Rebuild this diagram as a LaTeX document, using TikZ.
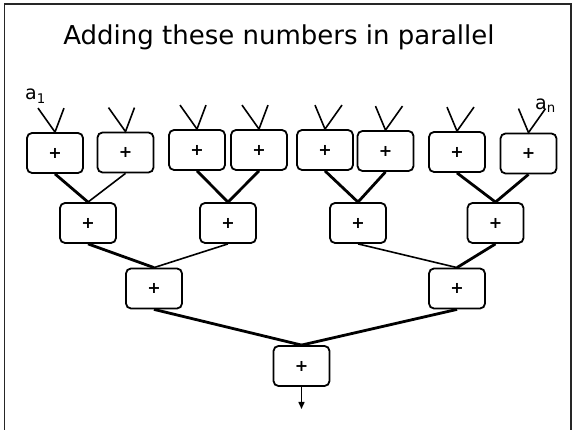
\documentclass[tikz,border=0pt]{standalone}
\usepackage{fontspec}
\setmainfont{DejaVu Sans}
\usetikzlibrary{calc,arrows.meta}
\begin{document}
\begin{tikzpicture}[x=1pt,y=-1pt,
  addbox/.style={draw, line width=1.8pt, rounded corners=5pt,
    minimum width=56pt, minimum height=40pt, inner sep=0pt,
    font=\fontsize{16}{16}\selectfont\bfseries},
  heavy/.style={line width=2.8pt},
  light/.style={line width=1.6pt},
  feed/.style={line width=1.6pt},
  lbl/.style={anchor=base west, inner sep=0pt, font=\fontsize{19}{19}\selectfont}
]
\useasboundingbox (0,0) rectangle (574,430);
\fill[white] (0,0) rectangle (574,430);
% outer frame (runs off the bottom edge)
\draw[line width=1.8pt, black!85] (4.5,440) -- (4.5,4) -- (571,4) -- (571,440);

% title
\node[anchor=base, inner sep=0pt, font=\fontsize{26}{26}\selectfont] (title) at (279,45) {Adding these numbers in parallel};

% first level adders
\node[addbox] (b1) at (55,153) {+};
\node[addbox] (b2) at (125.5,152.5) {+};
\node[addbox] (b3) at (197,150) {+};
\node[addbox] (b4) at (259,150) {+};
\node[addbox] (b5) at (325,150) {+};
\node[addbox] (b6) at (385.5,151) {+};
\node[addbox] (b7) at (457,152) {+};
\node[addbox] (b8) at (528.5,153.5) {+};

% second level
\node[addbox] (c1) at (88,223) {+};
\node[addbox] (c2) at (228,223) {+};
\node[addbox] (c3) at (358,223) {+};
\node[addbox] (c4) at (495.5,223) {+};

% third level
\node[addbox] (d1) at (154,288.5) {+};
\node[addbox] (d2) at (457,288.5) {+};

% root
\node[addbox] (e1) at (301.5,366) {+};
\coordinate (out) at (301.5,409);

% input pairs: left half leans left, right half leans right
\foreach \b in {b1,b2,b3,b4}{
  \coordinate (\b l) at ($(\b.north)+(-17,-24)$);
  \coordinate (\b r) at ($(\b.north)+(9,-24)$);
  \draw[feed] (\b l) -- (\b.north) -- (\b r);
}
\foreach \b in {b5,b6,b7,b8}{
  \coordinate (\b l) at ($(\b.north)+(-10,-24)$);
  \coordinate (\b r) at ($(\b.north)+(17,-24)$);
  \draw[feed] (\b l) -- (\b.north) -- (\b r);
}

% input labels
\node[lbl] (a1) at (25,100) {a\textsubscript{1}};
\node[lbl] (an) at (535,110) {a\textsubscript{n}};

% reduction tree
\draw[heavy] (b1.south) -- (c1.north);
\draw[light] (b2.south) -- (c1.north);
\draw[heavy] (b3.south) -- (c2.north);
\draw[heavy] (b4.south) -- (c2.north);
\draw[heavy] (b5.south) -- (c3.north);
\draw[heavy] (b6.south) -- (c3.north);
\draw[heavy] (b7.south) -- (c4.north);
\draw[heavy] (b8.south) -- (c4.north);

\draw[heavy] (c1.south) -- (d1.north);
\draw[light] (c2.south) -- (d1.north);
\draw[light] (c3.south) -- (d2.north);
\draw[heavy] (c4.south) -- (d2.north);

\draw[heavy] (d1.south) -- (e1.north);
\draw[heavy] (d2.south) -- (e1.north);

% result
\draw[line width=1.5pt, -{Triangle[length=7pt,width=6pt]}] (e1.south) -- (out);
\end{tikzpicture}
\end{document}
